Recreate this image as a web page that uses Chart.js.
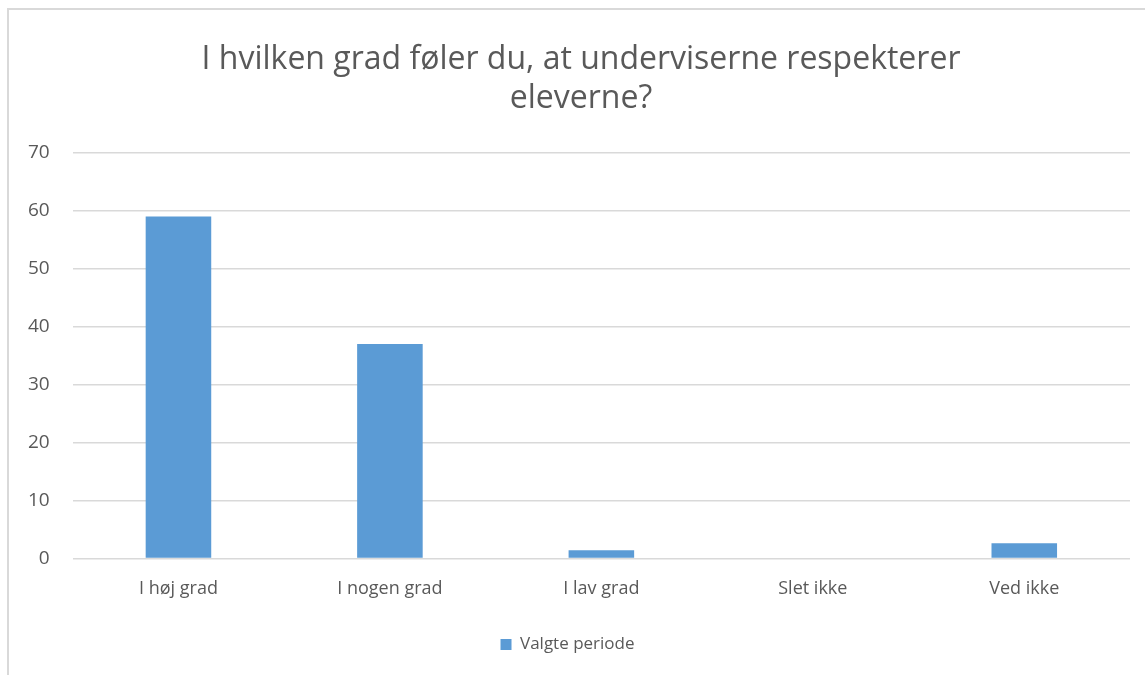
<!DOCTYPE html>
<html>
<head>
<meta charset="utf-8">
<script src="https://cdn.jsdelivr.net/npm/chart.js@4/dist/chart.umd.min.js"></script>
<style>
  html, body { margin: 0; padding: 0; background: #fff; }
  #wrap { position: absolute; left: 0; top: 0; width: 1145px; height: 675px; }
  #frame { position: absolute; left: 7px; top: 8px; width: 1140px; height: 670px;
           border-left: 2px solid #d9d9d9; border-top: 2px solid #d9d9d9; }
</style>
</head>
<body>
<div id="frame"></div>
<div id="wrap"><canvas id="chart"></canvas></div>
<script>
const categories = ['I høj grad', 'I nogen grad', 'I lav grad', 'Slet ikke', 'Ved ikke'];
const values = [59, 37, 1.4, 0, 2.6];
const seriesName = 'Valgte periode';
const titleLines = ['I hvilken grad føler du, at underviserne respekterer', 'eleverne?'];

const textColor = '#595959';
const fontFamily = "'Open Sans', 'Noto Sans', sans-serif";

// the title in the original sits a bit right of the canvas centre
const shiftTitle = {
    id: 'shiftTitle',
    afterLayout(chart) {
        if (chart.titleBlock) chart.titleBlock.left = 32;
    }
};

const ctx = document.getElementById('chart').getContext('2d');
new Chart(ctx, {
    type: 'bar',
    data: {
        labels: categories,
        datasets: [{
            label: seriesName,
            data: values,
            backgroundColor: '#5b9bd5',
            borderWidth: 0,
            categoryPercentage: 1.0,
            barPercentage: 0.31
        }]
    },
    options: {
        responsive: true,
        maintainAspectRatio: false,
        animation: false,
        layout: { padding: { left: 5, right: 15, top: 41, bottom: 12 } },
        plugins: {
            title: {
                display: true,
                text: titleLines,
                color: textColor,
                font: { family: fontFamily, size: 32, weight: 'normal' },
                lineHeight: 1.42,
                padding: { top: 0, bottom: 35 }
            },
            legend: {
                position: 'bottom',
                labels: {
                    color: textColor,
                    font: { family: fontFamily, size: 17 },
                    boxWidth: 11,
                    boxHeight: 11,
                    padding: 24
                }
            },
            tooltip: { enabled: false }
        },
        scales: {
            x: {
                grid: { display: false },
                border: { display: false },
                ticks: { color: textColor, font: { family: fontFamily, size: 18 }, padding: 12 }
            },
            y: {
                min: 0,
                max: 70,
                ticks: { stepSize: 10, color: textColor, font: { family: fontFamily, size: 19 }, padding: 23 },
                grid: { color: '#d9d9d9', lineWidth: 1.5, drawTicks: false },
                border: { display: false }
            }
        }
    },
    plugins: [shiftTitle]
});
</script>
</body>
</html>
